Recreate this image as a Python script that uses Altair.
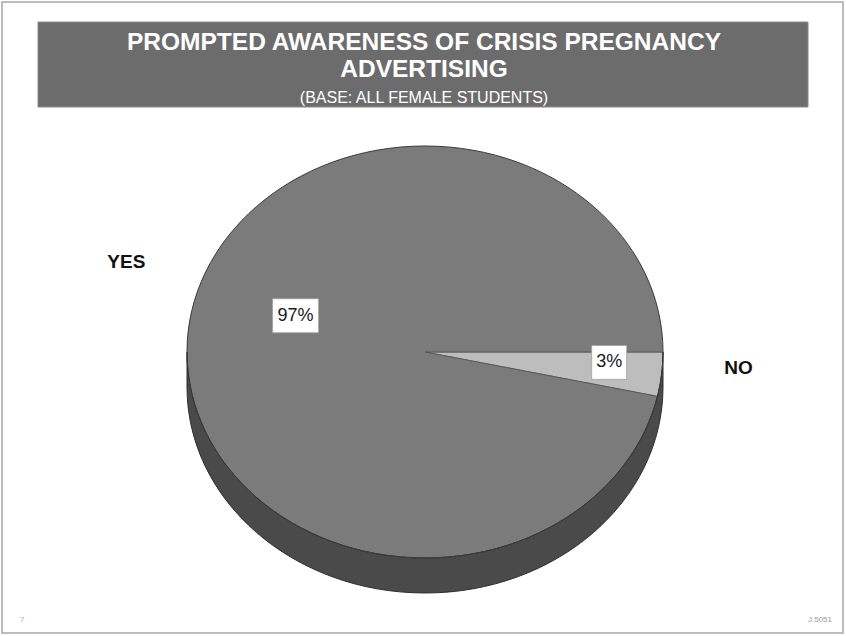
import math
import altair as alt
import pandas as pd

# Survey answers and their shares (%)
answers = ["NO", "YES"]
shares = [3, 97]
pct_labels = ["3%", "97%"]

title_lines = ["PROMPTED AWARENESS OF CRISIS PREGNANCY", "ADVERTISING"]
base_note = "(BASE: ALL FEMALE STUDENTS)"
page_no = "7"
job_ref = "J.5051"

# Layout / style
W, H = 846, 636
CX, CY = 425, 352          # pie centre
RX, RY = 238, 206          # half-axes of the pie's top face
DEPTH = 35                 # thickness of the pie's side
ARC_R = 240                # arc radius before trimming to the ellipse
START = math.pi / 2        # first slice starts at 3 o'clock

BANNER = "#6c6c6c"
FACE = "#7b7b7b"
SIDE = "#4a4a4a"
NO_FILL = "#bdbdbd"
EDGE = "#3a3a3a"
FONT = "Liberation Sans"

K = RY / RX
D = DEPTH / RX
C = 0.5523  # cubic bezier constant for a quarter ellipse


def f(v):
    return f"{v:.4f}"


# Elliptical outline (clockwise), in symbol units where the x half-axis is 1
ellipse_cw = (
    f"M 1 0 C 1 {f(C*K)} {f(C)} {f(K)} 0 {f(K)} "
    f"C {f(-C)} {f(K)} -1 {f(C*K)} -1 0 "
    f"C -1 {f(-C*K)} {f(-C)} {f(-K)} 0 {f(-K)} "
    f"C {f(C)} {f(-K)} 1 {f(-C*K)} 1 0 Z"
)
# Same ellipse, counter-clockwise (used as a hole)
ellipse_ccw = (
    f"M 1 0 C 1 {f(-C*K)} {f(C)} {f(-K)} 0 {f(-K)} "
    f"C {f(-C)} {f(-K)} -1 {f(-C*K)} -1 0 "
    f"C -1 {f(C*K)} {f(-C)} {f(K)} 0 {f(K)} "
    f"C {f(C)} {f(K)} 1 {f(C*K)} 1 0 Z"
)
M = (ARC_R + 6) / RX
mask_path = f"M {f(-M)} {f(-M)} L {f(M)} {f(-M)} L {f(M)} {f(M)} L {f(-M)} {f(M)} Z " + ellipse_ccw
side_path = (
    f"M -1 0 L -1 {f(D)} "
    f"C -1 {f(D + C*K)} {f(-C)} {f(D + K)} 0 {f(D + K)} "
    f"C {f(C)} {f(D + K)} 1 {f(D + C*K)} 1 {f(D)} "
    f"L 1 0 "
    f"C 1 {f(C*K)} {f(C)} {f(K)} 0 {f(K)} "
    f"C {f(-C)} {f(K)} -1 {f(C*K)} -1 0 Z"
)
SHAPE_SIZE = (2 * RX) ** 2

pie = pd.DataFrame({
    "answer": answers,
    "share": shares,
    "label": pct_labels,
    "order": list(range(len(answers))),
})
one = pd.DataFrame({"k": [0]})

# --- page frame -------------------------------------------------------------
frame = alt.Chart(one).mark_rect(fillOpacity=0, stroke="#a8a8a8", strokeWidth=1.5).encode(
    x=alt.value(2), x2=alt.value(W - 3), y=alt.value(2), y2=alt.value(H - 3)
)

# --- pie slices -------------------------------------------------------------
slices = alt.Chart(pie).mark_arc(radius=ARC_R, stroke="#505050", strokeWidth=0.8).encode(
    theta=alt.Theta("share:Q", stack=True,
                    scale=alt.Scale(range=[START, START + 2 * math.pi])),
    color=alt.Color("answer:N",
                    scale=alt.Scale(domain=["YES", "NO"], range=[FACE, NO_FILL]),
                    legend=None),
    order=alt.Order("order:Q"),
    x=alt.value(CX), y=alt.value(CY),
)


def shape_layer(path, **mark):
    return alt.Chart(one).mark_point(shape=path, size=SHAPE_SIZE, opacity=1, **mark).encode(
        x=alt.value(CX), y=alt.value(CY)
    )


# white surround that trims the round pie to an elliptical top face
mask = shape_layer(mask_path, filled=True, fill="white", strokeWidth=0)
side = shape_layer(side_path, filled=True, fill=SIDE, stroke="#2e2e2e", strokeWidth=1)
outline = shape_layer(ellipse_cw, filled=False, stroke=EDGE, strokeWidth=1)

# --- title banner -----------------------------------------------------------
banner = alt.Chart(one).mark_rect(fill=BANNER, stroke="#8a8a8a", strokeWidth=1).encode(
    x=alt.value(38), x2=alt.value(808), y=alt.value(22), y2=alt.value(107)
)


def banner_text(txt, y, size, weight):
    return alt.Chart(one).mark_text(
        text=txt, font=FONT, fontSize=size, fontWeight=weight, color="white",
        align="center", baseline="middle"
    ).encode(x=alt.value(424), y=alt.value(y))


t1 = banner_text(title_lines[0], 43, 24.5, "bold")
t2 = banner_text(title_lines[1], 70, 24.5, "bold")
t3 = banner_text(base_note, 98, 16, "normal")

# --- slice labels: placed along each slice's middle angle -------------------
big = "datum.frac > 0.5"
placed = alt.Chart(pie).transform_joinaggregate(
    total="sum(share)"
).transform_window(
    cum="sum(share)", sort=[alt.SortField("order")], frame=[None, 0]
).transform_calculate(
    frac="datum.share / datum.total",
    mid=f"{START} + 2 * PI * (datum.cum - datum.share / 2) / datum.total",
).transform_calculate(
    lr=f"{big} ? 130 : 185",
    lift=f"{big} ? -24 : -7",
    nr=f"{big} ? 300 : 315",
    nlift=f"{big} ? -62 : -14",
).transform_calculate(
    lx=f"{CX} + datum.lr * sin(datum.mid)",
    ly=f"{CY} - datum.lr * cos(datum.mid) + datum.lift",
    nx=f"{CX} + datum.nr * sin(datum.mid)",
    ny=f"{CY} - datum.nr * cos(datum.mid) + datum.nlift",
    bw="13 + 11 * length(datum.label)",
).transform_calculate(
    bx1="datum.lx - datum.bw / 2",
    bx2="datum.lx + datum.bw / 2",
    by1="datum.ly - 17",
    by2="datum.ly + 17",
)

boxes = placed.mark_rect(fill="white", stroke="#a0a0a0", strokeWidth=0.8).encode(
    x=alt.X("bx1:Q", scale=None, axis=None), x2="bx2:Q",
    y=alt.Y("by1:Q", scale=None, axis=None), y2="by2:Q",
)
pct_text = placed.mark_text(font=FONT, fontSize=18, color="#1a1a1a",
                            align="center", baseline="middle").encode(
    x=alt.X("lx:Q", scale=None, axis=None),
    y=alt.Y("ly:Q", scale=None, axis=None),
    text="label:N",
)
names = placed.mark_text(font=FONT, fontSize=19, fontWeight="bold", color="#111111",
                         align="center", baseline="middle").encode(
    x=alt.X("nx:Q", scale=None, axis=None),
    y=alt.Y("ny:Q", scale=None, axis=None),
    text="answer:N",
)

# --- footer ---------------------------------------------------------------
foot_l = alt.Chart(one).mark_text(text=page_no, font=FONT, fontSize=8, color="#b0b0b0",
                                  align="left", baseline="middle").encode(
    x=alt.value(20), y=alt.value(620))
foot_r = alt.Chart(one).mark_text(text=job_ref, font=FONT, fontSize=8, color="#9a9a9a",
                                  align="right", baseline="middle").encode(
    x=alt.value(832), y=alt.value(620))

chart = alt.layer(
    frame, slices, mask, side, outline, banner, t1, t2, t3,
    boxes, pct_text, names, foot_l, foot_r
).properties(
    width=W, height=H, padding=0, autosize=alt.AutoSizeParams(type="none"),
    background="white"
).configure_view(stroke=None)

chart.save("out.html", embed_options={"renderer": "svg", "actions": False})
